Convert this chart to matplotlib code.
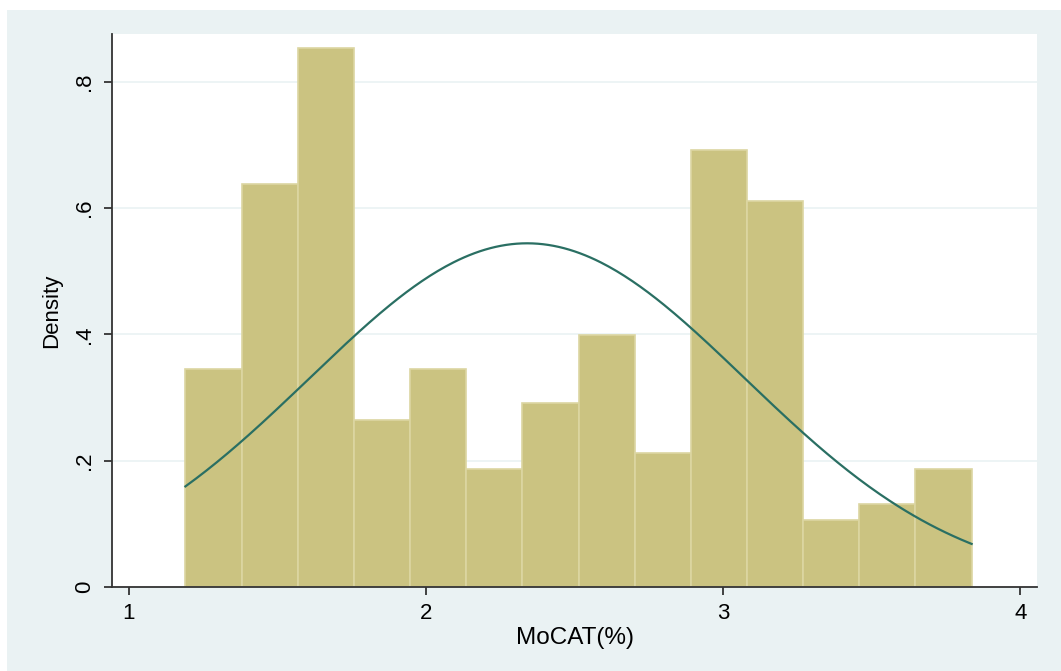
import numpy as np
import matplotlib.pyplot as plt
from matplotlib.patches import Rectangle

plt.rcParams["font.family"] = ["Liberation Sans", "DejaVu Sans"]

# histogram of MoCAT(%), density scale
bin_start = 1.19
bin_width = 0.189
densities = [0.345, 0.638, 0.854, 0.264, 0.345, 0.187, 0.291,
             0.399, 0.212, 0.692, 0.611, 0.106, 0.131, 0.187]

# normal overlay parameters
mu = 2.34
sigma = 0.733

x_ticks = [1, 2, 3, 4]
y_ticks = [0, 0.2, 0.4, 0.6, 0.8]
y_tick_labels = ["0", ".2", ".4", ".6", ".8"]

W, H = 1061, 671
fig = plt.figure(figsize=(W / 100, H / 100), dpi=100, facecolor="white")
fig.patches.append(Rectangle((7 / W, 0), 1 - 7 / W, 1 - 10 / H,
                             transform=fig.transFigure, facecolor="#eaf2f3",
                             edgecolor="none", zorder=-10))

ax = fig.add_axes([112 / W, 1 - 586.7 / H, (1037 - 112) / W, (586.7 - 34) / H])
ax.set_facecolor("white")

edges = bin_start + bin_width * np.arange(len(densities))
ax.bar(edges, densities, width=bin_width, align="edge",
       color="#cbc381", edgecolor="#dcd6a2", linewidth=1.2, zorder=2)

xs = np.linspace(bin_start, bin_start + bin_width * len(densities), 300)
pdf = np.exp(-0.5 * ((xs - mu) / sigma) ** 2) / (sigma * np.sqrt(2 * np.pi))
ax.plot(xs, pdf, color="#2a6f63", linewidth=1.6, zorder=3)

ax.set_xlim(0.943, 4.056)
ax.set_ylim(0, 0.876)
ax.set_xticks(x_ticks)
ax.set_yticks(y_ticks)
ax.set_yticklabels(y_tick_labels, rotation=90, va="center")
ax.grid(axis="y", color="#eaf2f3", linewidth=1.2, zorder=0)
ax.set_axisbelow(True)

for side in ("top", "right"):
    ax.spines[side].set_visible(False)
for side in ("left", "bottom"):
    ax.spines[side].set_color("#333333")
    ax.spines[side].set_linewidth(1.3)
ax.tick_params(direction="out", length=6, width=1.3, color="#333333",
               labelsize=16, pad=6)

ax.set_xlabel("MoCAT(%)", fontsize=17.5, labelpad=2)
ax.set_ylabel("Density", fontsize=16, labelpad=9)

fig.savefig("out.png", dpi=100, facecolor=fig.get_facecolor())
